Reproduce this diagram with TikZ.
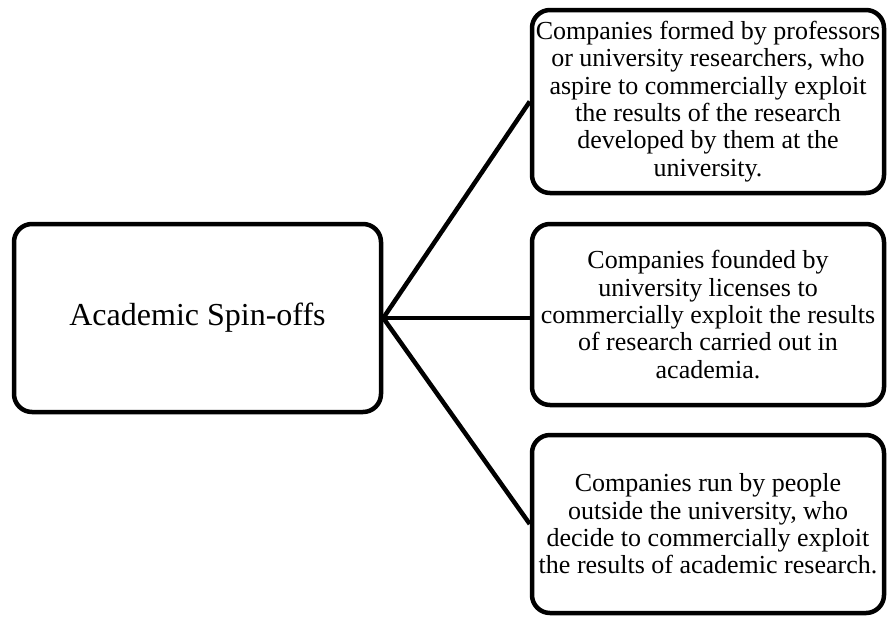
\documentclass[tikz,border=0pt]{standalone}
\usepackage{fontspec}
\setmainfont{Liberation Serif}
\begin{document}
\begin{tikzpicture}[x=1pt,y=-1pt,
  box/.style={draw=black, line width=4.5pt, rounded corners=18pt, align=center, inner sep=0pt},
  conn/.style={draw=black, line width=4.5pt},
  small/.style={font=\fontsize{26pt}{27.3pt}\selectfont},
  big/.style={font=\fontsize{32pt}{36pt}\selectfont}]
\useasboundingbox (0,0) rectangle (888,619);
\node[box, big, minimum width=367pt, minimum height=188pt] (L) at (197.5,318) {Academic Spin-offs};
\node[box, small, minimum width=352pt, minimum height=183pt] (B1) at (708,101.5)
  {Companies formed by professors\\or university researchers, who\\aspire to commercially exploit\\the results of the research\\developed by them at the\\university.};
\node[box, small, minimum width=352pt, minimum height=181pt] (B2) at (708,314.5)
  {Companies founded by\\university licenses to\\commercially exploit the results\\of research carried out in\\academia.};
\node[box, small, minimum width=352pt, minimum height=178pt] (B3) at (708,524)
  {Companies run by people\\outside the university, who\\decide to commercially exploit\\the results of academic research.};
\draw[conn] (L.east) -- (B1.west);
\draw[conn] (L.east) -- (B2.west |- L.east);
\draw[conn] (L.east) -- (B3.west);
\end{tikzpicture}
\end{document}
